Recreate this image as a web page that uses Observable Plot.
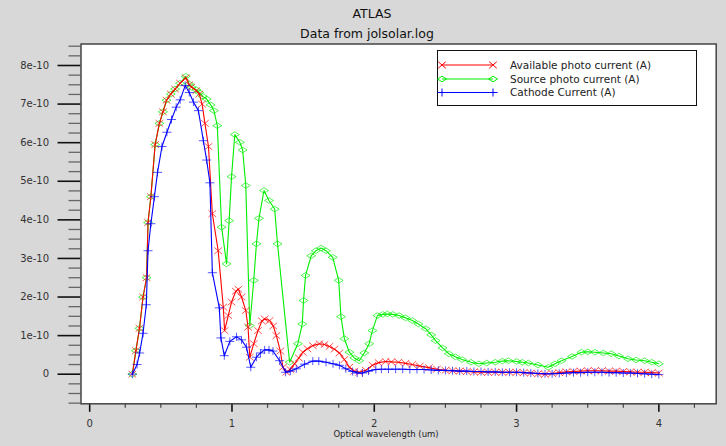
<!DOCTYPE html>
<html><head><meta charset="utf-8">
<script src="https://cdn.jsdelivr.net/npm/d3@7"></script>
<script src="https://cdn.jsdelivr.net/npm/@observablehq/plot@0.6"></script>
<style>
html,body{margin:0;padding:0;background:#d8d8d8;}
#wrap{position:relative;width:726px;height:446px;background:#d8d8d8;overflow:hidden;font-family:"DejaVu Sans",sans-serif;color:#111;}
.t{position:absolute;white-space:nowrap;transform:translate(-50%,-50%);}
#chart{position:absolute;left:0;top:40px;}
#legend{position:absolute;left:437px;top:50px;}
</style></head><body>
<div id="wrap">
<div class="t" style="left:372px;top:13px;font-size:12.5px">ATLAS</div>
<div class="t" style="left:367px;top:33px;font-size:12.5px">Data from jolsolar.log</div>
<div id="chart"></div>
<div class="t" style="left:386px;top:434px;font-size:8.5px;color:#222">Optical wavelength (um)</div>
<svg id="legend" width="262" height="57"></svg>
</div>
<script>
// values in units of 1e-10 A, x in um
const seriesNames = ["Available photo current (A)", "Source photo current (A)", "Cathode Current (A)"];
const seriesColors = ["#ff0000", "#00ee00", "#0000ff"];

const availableCurrent = [[0.30,0],[0.325,0.61],[0.35,1.19],[0.375,2.0],[0.40,2.5],[0.41,3.93],[0.43,4.6],[0.46,5.95],[0.49,6.5],[0.515,6.8],[0.54,7.1],[0.57,7.26],[0.60,7.39],[0.635,7.54],[0.675,7.68],[0.70,7.5],[0.715,7.44],[0.75,7.35],[0.77,7.26],[0.79,7.0],[0.81,6.5],[0.835,5.9],[0.862,4.16],[0.903,3.2],[0.939,1.74],[0.948,1.13],[0.974,1.52],[0.997,1.87],[1.027,2.15],[1.045,2.2],[1.067,2.0],[1.097,1.65],[1.113,1.22],[1.125,0.44],[1.153,0.79],[1.183,1.13],[1.21,1.38],[1.23,1.43],[1.265,1.39],[1.29,1.25],[1.312,1.0],[1.34,0.6],[1.358,0.18],[1.382,0.05],[1.41,0.12],[1.44,0.27],[1.47,0.42],[1.498,0.57],[1.53,0.66],[1.568,0.74],[1.615,0.79],[1.65,0.77],[1.685,0.72],[1.72,0.65],[1.755,0.55],[1.79,0.38],[1.825,0.18],[1.86,0.08],[1.894,0.05],[1.94,0.1],[1.987,0.23],[2.03,0.3],[2.08,0.33],[2.12,0.32],[2.17,0.31],[2.22,0.28],[2.267,0.25],[2.32,0.21],[2.384,0.17],[2.44,0.13],[2.5,0.1],[2.55,0.09],[2.6,0.08],[2.65,0.07],[2.7,0.06],[2.75,0.05],[2.8,0.05],[2.85,0.05],[2.9,0.05],[2.95,0.05],[3.0,0.05],[3.05,0.04],[3.1,0.03],[3.15,0.01],[3.2,0.0],[3.25,0.02],[3.3,0.04],[3.35,0.06],[3.4,0.07],[3.45,0.08],[3.5,0.09],[3.55,0.09],[3.6,0.09],[3.65,0.08],[3.7,0.08],[3.75,0.07],[3.8,0.06],[3.85,0.05],[3.9,0.05],[3.95,0.04],[4.0,0.03]];

const sourceCurrent = [[0.30,0],[0.325,0.61],[0.35,1.19],[0.375,2.0],[0.40,2.5],[0.41,3.93],[0.43,4.6],[0.46,5.95],[0.49,6.5],[0.515,6.8],[0.54,7.1],[0.57,7.26],[0.60,7.39],[0.635,7.54],[0.675,7.72],[0.70,7.52],[0.715,7.44],[0.75,7.37],[0.77,7.3],[0.795,7.2],[0.822,7.13],[0.85,6.98],[0.873,6.83],[0.897,6.44],[0.927,3.81],[0.962,2.86],[0.98,3.98],[0.997,5.12],[1.02,6.21],[1.055,6.01],[1.075,5.81],[1.097,4.89],[1.125,1.26],[1.153,2.43],[1.172,3.38],[1.19,4.04],[1.225,4.76],[1.26,4.5],[1.30,4.28],[1.32,3.38],[1.405,0.31],[1.463,0.79],[1.494,1.3],[1.503,1.91],[1.517,2.56],[1.557,3.07],[1.59,3.2],[1.627,3.27],[1.66,3.2],[1.708,3.03],[1.75,2.43],[1.766,1.49],[1.79,0.92],[1.825,0.57],[1.86,0.42],[1.894,0.35],[1.93,0.55],[1.964,0.79],[1.987,1.13],[2.022,1.52],[2.06,1.55],[2.092,1.56],[2.13,1.55],[2.174,1.52],[2.22,1.46],[2.267,1.39],[2.31,1.3],[2.361,1.18],[2.40,1.02],[2.431,0.87],[2.48,0.68],[2.524,0.53],[2.57,0.45],[2.617,0.38],[2.68,0.31],[2.734,0.27],[2.79,0.29],[2.85,0.31],[2.90,0.34],[2.943,0.35],[3.0,0.33],[3.04,0.31],[3.083,0.29],[3.15,0.24],[3.223,0.18],[3.27,0.27],[3.316,0.35],[3.39,0.46],[3.456,0.57],[3.50,0.58],[3.55,0.57],[3.61,0.55],[3.666,0.53],[3.72,0.47],[3.783,0.4],[3.84,0.37],[3.9,0.35],[3.95,0.31],[4.0,0.27]];

const cathodeCurrent = [[0.30,0],[0.333,0.25],[0.351,0.55],[0.375,1.06],[0.398,1.8],[0.41,3.2],[0.43,3.9],[0.455,4.6],[0.477,5.23],[0.508,5.9],[0.543,6.27],[0.575,6.6],[0.608,6.92],[0.636,7.11],[0.671,7.48],[0.70,7.3],[0.729,7.05],[0.764,6.83],[0.799,6.05],[0.822,5.55],[0.845,4.96],[0.862,2.63],[0.911,1.72],[0.922,0.94],[0.946,0.48],[0.985,0.85],[1.032,0.97],[1.067,0.89],[1.102,0.7],[1.132,0.18],[1.172,0.44],[1.2,0.55],[1.23,0.63],[1.26,0.63],[1.288,0.6],[1.335,0.35],[1.377,0.05],[1.41,0.08],[1.452,0.14],[1.51,0.26],[1.568,0.34],[1.61,0.34],[1.661,0.31],[1.71,0.27],[1.755,0.23],[1.8,0.14],[1.848,0.07],[1.88,0.03],[1.917,0.03],[1.96,0.08],[2.011,0.12],[2.05,0.13],[2.1,0.13],[2.15,0.13],[2.2,0.13],[2.25,0.12],[2.3,0.12],[2.35,0.12],[2.4,0.11],[2.45,0.1],[2.5,0.1],[2.55,0.09],[2.6,0.08],[2.65,0.08],[2.7,0.07],[2.75,0.07],[2.8,0.06],[2.85,0.06],[2.9,0.05],[2.95,0.05],[3.0,0.05],[3.05,0.04],[3.1,0.03],[3.15,0.02],[3.2,0.01],[3.25,0.01],[3.3,0.02],[3.35,0.03],[3.4,0.04],[3.45,0.04],[3.5,0.05],[3.55,0.05],[3.6,0.05],[3.65,0.04],[3.7,0.04],[3.75,0.03],[3.8,0.03],[3.85,0.02],[3.9,0.01],[3.95,0.0],[4.0,-0.01]];

const xMajorTicks = [0, 1, 2, 3, 4];
const yMajorTicks = [0, 1, 2, 3, 4, 5, 6, 7, 8];
const yTickLabels = ["0", "1e-10", "2e-10", "3e-10", "4e-10", "5e-10", "6e-10", "7e-10", "8e-10"];
const xAxisTitle = "Optical wavelength (um)";

const xMinorTicks = d3.range(0, 17.5).map(i => i * 0.25).filter(v => v % 1 !== 0);
const yMinorTicks = d3.range(-3, 35).map(i => i * 0.25).filter(v => v % 1 !== 0);

// marker shapes
const crossSym = {draw(c){ c.moveTo(-3.8,-3.3); c.lineTo(3.8,3.3); c.moveTo(-3.8,3.3); c.lineTo(3.8,-3.3); }};
const diamondSym = {draw(c){ c.moveTo(-4.5,0); c.lineTo(0,-2.8); c.lineTo(4.5,0); c.lineTo(0,2.8); c.closePath(); }};
const plusSym = {draw(c){ c.moveTo(-4.5,0); c.lineTo(4.5,0); c.moveTo(0,-4); c.lineTo(0,4); }};
const symbols = [crossSym, diamondSym, plusSym];

const toRows = arr => arr.map(([x, y]) => ({x, y}));
const allSeries = [availableCurrent, sourceCurrent, cathodeCurrent].map(toRows);
const drawOrder = [1, 0, 2];

const marks = [Plot.frame({fill: "white", stroke: "none"})];
for (const k of drawOrder) {
  marks.push(Plot.line(allSeries[k], {x: "x", y: "y", stroke: seriesColors[k], strokeWidth: 1.1}));
  marks.push(Plot.dot(allSeries[k], {x: "x", y: "y", symbol: symbols[k], stroke: seriesColors[k], fill: "none", strokeWidth: 0.9, strokeOpacity: 0.75}));
}
marks.push(
  Plot.axisY({ticks: yMajorTicks, tickSize: 23, tickPadding: 9, tickFormat: d => yTickLabels[yMajorTicks.indexOf(d)], stroke: "#111", strokeWidth: 1.6, fill: "#333"}),
  Plot.axisY({ticks: yMinorTicks, tickSize: 12, tickFormat: () => "", stroke: "#666", strokeWidth: 1.3}),
  Plot.axisX({ticks: xMajorTicks, tickSize: 8.5, tickPadding: 8, tickFormat: d => String(d), stroke: "#111", strokeWidth: 1.6, fill: "#333"}),
  Plot.axisX({ticks: xMinorTicks, tickSize: 4.5, tickFormat: () => "", stroke: "#444", strokeWidth: 1.2}),
  Plot.frame({stroke: "#444", strokeWidth: 1.5, fill: "none"})
);

const chart = Plot.plot({
  width: 726, height: 406,
  marginLeft: 80.5, marginRight: 10.3, marginTop: 3.5, marginBottom: 42.7,
  style: {background: "transparent", fontFamily: "DejaVu Sans, sans-serif", fontSize: "10px", color: "#222", overflow: "visible"},
  x: {domain: [-0.061, 4.403], label: null},
  y: {domain: [-0.767, 8.557], label: null},
  marks
});
document.getElementById("chart").appendChild(chart);

// legend
const lg = d3.select("#legend");
lg.append("rect").attr("x", 0.5).attr("y", 0.5).attr("width", 259).attr("height", 55).attr("fill", "white").attr("stroke", "#111");
const rowsY = [15, 29, 42.5];
seriesNames.forEach((name, i) => {
  const g = lg.append("g").attr("transform", `translate(0,${rowsY[i]})`);
  g.append("line").attr("x1", 5).attr("x2", 56).attr("stroke", seriesColors[i]).attr("stroke-width", 1.1);
  [5, 56].forEach(px => {
    const p = d3.path(); symbols[i].draw(p);
    g.append("path").attr("d", p.toString()).attr("transform", `translate(${px},0)`).attr("fill", "none").attr("stroke", seriesColors[i]).attr("stroke-width", 1);
  });
  g.append("text").attr("x", 73).attr("dy", "0.35em").attr("font-size", "10.5px").attr("font-family", "DejaVu Sans, sans-serif").attr("fill", "#222").text(name);
});
</script>
</body></html>
